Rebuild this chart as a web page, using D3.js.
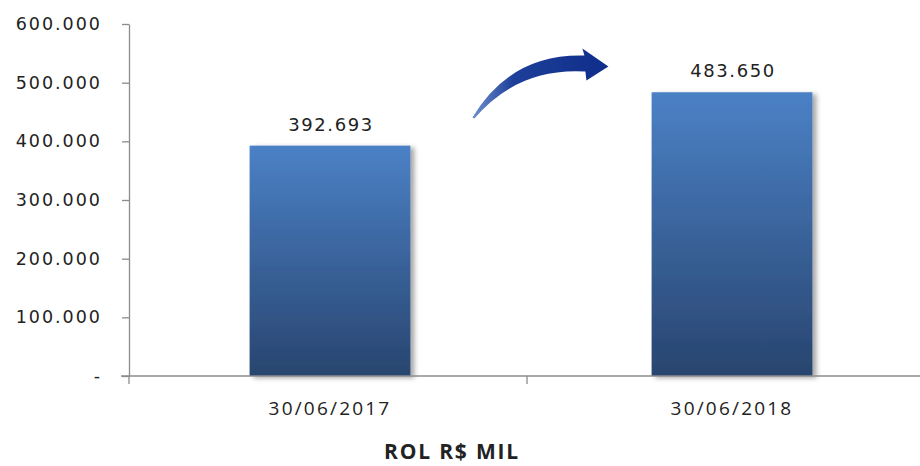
<body style="margin:0;background:#fff"></body>

<script src='https://d3js.org/d3.v7.min.js'></script>
<script>
    const categories = ["30/06/2017", "30/06/2018"];
    const values = [392.693, 483.650];
    const valueLabels = ["392.693", "483.650"];
    const yTicks = [0, 100, 200, 300, 400, 500, 600];
    const yTickLabels = ["-", "100.000", "200.000", "300.000", "400.000", "500.000", "600.000"];
    const title = "ROL R$ MIL";

    const width = 920, height = 466;
    const plotLeft = 129, plotRight = 933, plotTop = 24, plotBottom = 376;

    var svg = d3.select("body").append("svg")
        .attr("width", width)
        .attr("height", height);

    var defs = svg.append("defs");
    var grad = defs.append("linearGradient")
        .attr("id", "barGrad")
        .attr("x1", 0).attr("y1", 0).attr("x2", 0).attr("y2", 1);
    grad.append("stop").attr("offset", "0%").attr("stop-color", "#4b81c6");
    grad.append("stop").attr("offset", "100%").attr("stop-color", "#28456f");

    var shadow = defs.append("filter").attr("id", "shadow")
        .attr("x", "-10%").attr("y", "-10%").attr("width", "130%").attr("height", "120%");
    shadow.append("feDropShadow")
        .attr("dx", 4).attr("dy", 2).attr("stdDeviation", 2.5)
        .attr("flood-color", "#000").attr("flood-opacity", 0.35);

    var x = d3.scaleBand()
        .domain(categories)
        .range([plotLeft, plotRight])
        .paddingInner(0.6)
        .paddingOuter(0.3);

    var y = d3.scaleLinear()
        .domain([0, 600])
        .range([plotBottom, plotTop]);

    // bars
    svg.selectAll("rect.bar")
        .data(values)
        .enter()
        .append("rect")
        .attr("class", "bar")
        .attr("x", (d, i) => x(categories[i]))
        .attr("y", d => y(d))
        .attr("width", x.bandwidth())
        .attr("height", d => y(0) - y(d))
        .attr("fill", "url(#barGrad)")
        .attr("filter", "url(#shadow)");

    // value labels
    svg.selectAll("text.val")
        .data(values)
        .enter()
        .append("text")
        .attr("class", "val")
        .attr("x", (d, i) => x(categories[i]) + x.bandwidth() / 2 + 1)
        .attr("y", d => y(d) - 15)
        .attr("text-anchor", "middle")
        .style("font-family", "DejaVu Sans, Verdana, sans-serif")
        .style("font-size", "18px")
        .style("letter-spacing", "1.6px")
        .style("fill", "#222")
        .text((d, i) => valueLabels[i]);

    // y axis
    var yAxis = d3.axisLeft(y)
        .tickValues(yTicks)
        .tickSize(7)
        .tickSizeOuter(0)
        .tickPadding(20)
        .tickFormat((d, i) => yTickLabels[i]);

    var gy = svg.append("g")
        .attr("transform", "translate(" + plotLeft + ",0)")
        .call(yAxis);
    gy.select(".domain").attr("stroke", "#8c8c8c").attr("stroke-width", 1.3);
    gy.selectAll(".tick line").attr("stroke", "#8c8c8c").attr("stroke-width", 1.3);
    gy.selectAll(".tick text")
        .style("font-family", "DejaVu Sans, Verdana, sans-serif")
        .style("font-size", "17.5px")
        .style("letter-spacing", "2px")
        .style("fill", "#222");

    // x axis (ticks between categories)
    var xEdges = d3.scaleLinear().domain([0, categories.length]).range([plotLeft, 925]);
    svg.append("line")
        .attr("x1", plotLeft - 8).attr("x2", width)
        .attr("y1", plotBottom).attr("y2", plotBottom)
        .attr("stroke", "#8c8c8c").attr("stroke-width", 1.3);
    svg.selectAll("line.xt")
        .data(d3.range(categories.length + 1))
        .enter()
        .append("line")
        .attr("class", "xt")
        .attr("x1", d => xEdges(d)).attr("x2", d => xEdges(d))
        .attr("y1", plotBottom).attr("y2", plotBottom + 8)
        .attr("stroke", "#8c8c8c").attr("stroke-width", 1.3);

    svg.selectAll("text.cat")
        .data(categories)
        .enter()
        .append("text")
        .attr("class", "cat")
        .attr("x", d => x(d) + x.bandwidth() / 2)
        .attr("y", plotBottom + 39)
        .attr("text-anchor", "middle")
        .style("font-family", "Open Sans, sans-serif")
        .style("font-size", "19px")
        .style("letter-spacing", "2.2px")
        .style("fill", "#222")
        .text(d => d);

    svg.append("text")
        .attr("x", 452)
        .attr("y", 459)
        .attr("text-anchor", "middle")
        .style("font-family", "Open Sans, sans-serif")
        .style("font-weight", "bold")
        .style("font-size", "21px")
        .style("letter-spacing", "1.8px")
        .style("fill", "#222")
        .text(title);

    // growth arrow between the bars
    var ax0 = x(categories[0]) + x.bandwidth() + 62;
    var ay0 = y(values[0]) - 28;
    var arrow = d3.path();
    arrow.moveTo(ax0, ay0);
    arrow.quadraticCurveTo(ax0 + 38, ay0 - 64, ax0 + 112, ay0 - 62);
    arrow.lineTo(ax0 + 110, ay0 - 69);
    arrow.lineTo(ax0 + 136, ay0 - 51);
    arrow.lineTo(ax0 + 114, ay0 - 37);
    arrow.lineTo(ax0 + 113, ay0 - 46);
    arrow.quadraticCurveTo(ax0 + 45, ay0 - 50, ax0 + 2, ay0 + 1);
    arrow.closePath();

    var ag = defs.append("linearGradient").attr("id", "arrowGrad")
        .attr("x1", 0).attr("y1", 0).attr("x2", 1).attr("y2", 0);
    ag.append("stop").attr("offset", "0%").attr("stop-color", "#6f8fd0");
    ag.append("stop").attr("offset", "30%").attr("stop-color", "#1d3f99");
    ag.append("stop").attr("offset", "100%").attr("stop-color", "#0f2d8a");

    svg.append("path")
        .attr("d", arrow.toString())
        .attr("fill", "url(#arrowGrad)");
</script>
